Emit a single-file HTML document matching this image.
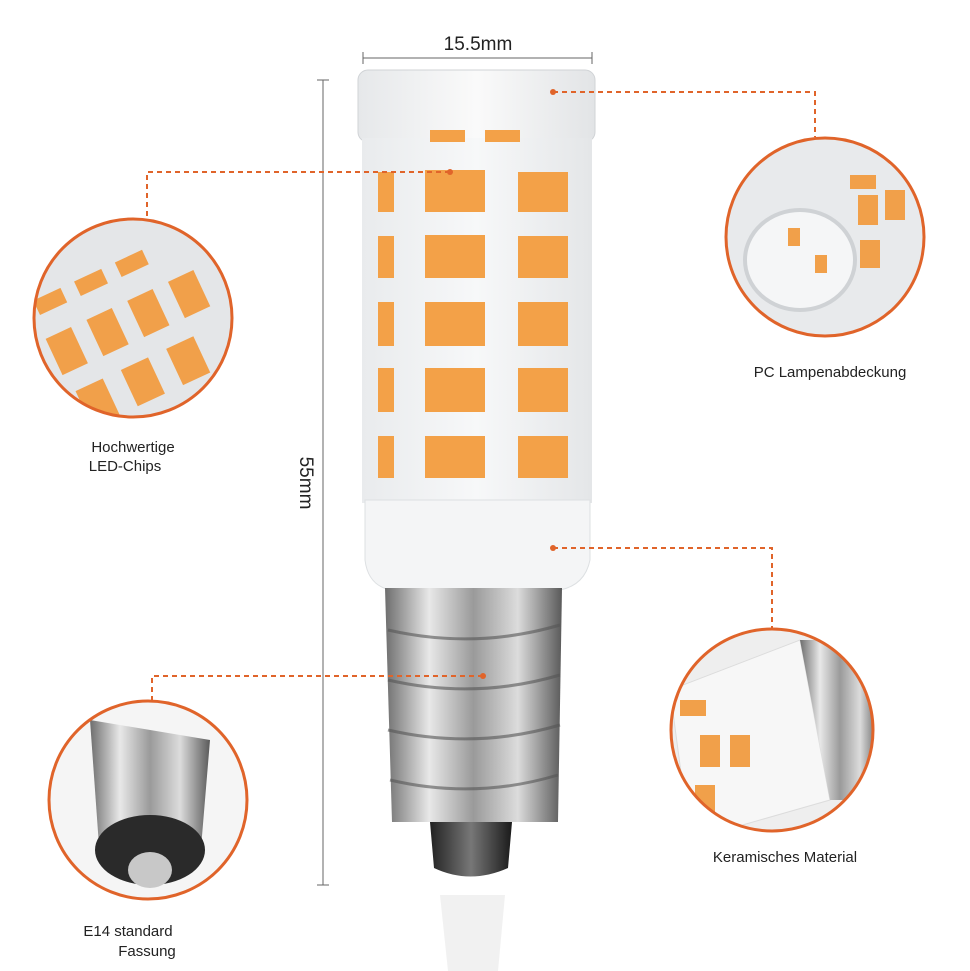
<!DOCTYPE html>
<html><head><meta charset="utf-8"><style>
html,body{margin:0;padding:0;background:#fff;}
svg{display:block}
text{font-family:"Liberation Sans","DejaVu Sans",sans-serif;fill:#222}
</style></head><body>
<svg width="970" height="971" viewBox="0 0 970 971" xmlns="http://www.w3.org/2000/svg">
<defs>
<linearGradient id="metal" x1="0" x2="1" y1="0" y2="0">
<stop offset="0" stop-color="#6e6e6e"/><stop offset="0.25" stop-color="#e8e8e8"/><stop offset="0.5" stop-color="#9a9a9a"/><stop offset="0.75" stop-color="#dcdcdc"/><stop offset="1" stop-color="#5a5a5a"/>
</linearGradient>
<linearGradient id="clear" x1="0" x2="1"><stop offset="0" stop-color="#e6e8ea"/><stop offset="0.5" stop-color="#fafafa"/><stop offset="1" stop-color="#e2e4e6"/></linearGradient>
<linearGradient id="body" x1="0" x2="1"><stop offset="0" stop-color="#e9ebed"/><stop offset="0.5" stop-color="#f7f8f9"/><stop offset="1" stop-color="#e4e6e8"/></linearGradient>
<linearGradient id="tip" x1="0" x2="1"><stop offset="0" stop-color="#222"/><stop offset="0.5" stop-color="#777"/><stop offset="1" stop-color="#1a1a1a"/></linearGradient>
<clipPath id="c1"><circle cx="133" cy="318" r="98"/></clipPath>
<clipPath id="c2"><circle cx="825" cy="237" r="98"/></clipPath>
<clipPath id="c3"><circle cx="148" cy="800" r="98"/></clipPath>
<clipPath id="c4"><circle cx="772" cy="730" r="100"/></clipPath>
</defs>

<!-- dimension lines -->
<line x1="363" y1="58" x2="592" y2="58" stroke="#666" stroke-width="1"/>
<line x1="363" y1="52" x2="363" y2="64" stroke="#666"/><line x1="592" y1="52" x2="592" y2="64" stroke="#666"/>
<text x="478" y="50" font-size="19" text-anchor="middle">15.5mm</text>
<line x1="323" y1="80" x2="323" y2="885" stroke="#666"/>
<line x1="317" y1="80" x2="329" y2="80" stroke="#666"/><line x1="317" y1="885" x2="329" y2="885" stroke="#666"/>
<text x="0" y="0" font-size="19" transform="translate(300,483) rotate(90)" text-anchor="middle">55mm</text>

<!-- bulb -->
<rect x="358" y="70" width="237" height="72" rx="10" fill="url(#clear)" stroke="#d0d3d6"/>
<rect x="362" y="138" width="230" height="365" fill="url(#body)"/>
<g fill="#f3a148">
<rect x="378" y="172" width="16" height="40"/><rect x="425" y="170" width="60" height="42"/><rect x="518" y="172" width="50" height="40"/>
<rect x="378" y="236" width="16" height="42"/><rect x="425" y="235" width="60" height="43"/><rect x="518" y="236" width="50" height="42"/>
<rect x="378" y="302" width="16" height="44"/><rect x="425" y="302" width="60" height="44"/><rect x="518" y="302" width="50" height="44"/>
<rect x="378" y="368" width="16" height="44"/><rect x="425" y="368" width="60" height="44"/><rect x="518" y="368" width="50" height="44"/>
<rect x="378" y="436" width="16" height="42"/><rect x="425" y="436" width="60" height="42"/><rect x="518" y="436" width="50" height="42"/>
<rect x="430" y="130" width="35" height="12"/><rect x="485" y="130" width="35" height="12"/>
</g>
<path d="M365 500 L590 500 L590 560 Q585 585 560 590 L390 590 Q368 585 365 560 Z" fill="#f4f5f6" stroke="#dde0e2"/>
<path d="M385 588 L562 588 L558 822 L392 822 Z" fill="url(#metal)"/>
<g stroke="#555" stroke-width="3" fill="none" opacity="0.6">
<path d="M388 630 Q475 650 560 625"/><path d="M388 680 Q475 700 560 675"/><path d="M388 730 Q475 750 560 725"/><path d="M390 780 Q475 800 558 775"/>
</g>
<path d="M430 822 L512 822 L508 868 Q470 885 434 868 Z" fill="url(#tip)"/>
<path d="M440 895 L505 895 L498 971 L448 971 Z" fill="#eeeeee" opacity="0.8"/>

<!-- connectors -->
<g stroke="#e0642a" stroke-width="2" stroke-dasharray="5,4" fill="none">
<path d="M450 172 H147 V218"/>
<path d="M553 92 H815 V137"/>
<path d="M553 548 H772 V628"/>
<path d="M483 676 H152 V700"/>
</g>
<g fill="#e0642a"><circle cx="450" cy="172" r="3"/><circle cx="553" cy="92" r="3"/><circle cx="553" cy="548" r="3"/><circle cx="483" cy="676" r="3"/></g>

<!-- circles -->
<g clip-path="url(#c1)">
<rect x="30" y="215" width="210" height="210" fill="#e4e6e8"/>
<g fill="#f1a04a" transform="rotate(-25 133 318)">
<rect x="50" y="260" width="30" height="16"/><rect x="95" y="260" width="30" height="16"/><rect x="140" y="260" width="30" height="16"/>
<rect x="45" y="300" width="28" height="40"/><rect x="90" y="300" width="28" height="40"/><rect x="135" y="300" width="28" height="40"/><rect x="180" y="300" width="28" height="40"/>
<rect x="50" y="360" width="30" height="40"/><rect x="100" y="360" width="30" height="40"/><rect x="150" y="360" width="30" height="40"/>
</g></g>
<circle cx="133" cy="318" r="99" fill="none" stroke="#e0642a" stroke-width="3"/>

<g clip-path="url(#c2)">
<rect x="725" y="137" width="200" height="200" fill="#e8eaec"/>
<ellipse cx="800" cy="260" rx="55" ry="50" fill="#f5f6f7" stroke="#cfd2d5" stroke-width="4"/>
<g fill="#f1a04a"><rect x="850" y="175" width="26" height="14"/><rect x="858" y="195" width="20" height="30"/><rect x="885" y="190" width="20" height="30"/><rect x="860" y="240" width="20" height="28"/><rect x="788" y="228" width="12" height="18"/><rect x="815" y="255" width="12" height="18"/></g>
</g>
<circle cx="825" cy="237" r="99" fill="none" stroke="#e0642a" stroke-width="3"/>

<g clip-path="url(#c3)">
<rect x="48" y="700" width="200" height="200" fill="#f5f5f5"/>
<path d="M90 720 L210 740 L200 860 L100 860 Z" fill="url(#metal)"/>
<ellipse cx="150" cy="850" rx="55" ry="35" fill="#2a2a2a"/>
<ellipse cx="150" cy="870" rx="22" ry="18" fill="#c8c8c8"/>
</g>
<circle cx="148" cy="800" r="99" fill="none" stroke="#e0642a" stroke-width="3"/>

<g clip-path="url(#c4)">
<rect x="670" y="628" width="205" height="205" fill="#eeeeee"/>
<path d="M670 690 L800 640 L830 800 L690 840 Z" fill="#f7f7f7" stroke="#dcdcdc"/>
<path d="M800 640 L880 640 L880 800 L830 800 Z" fill="url(#metal)"/>
<g fill="#f1a04a"><rect x="680" y="700" width="26" height="16"/><rect x="700" y="735" width="20" height="32"/><rect x="730" y="735" width="20" height="32"/><rect x="695" y="785" width="20" height="28"/></g>
</g>
<circle cx="772" cy="730" r="101" fill="none" stroke="#e0642a" stroke-width="3"/>

<!-- labels -->
<text x="133" y="452" font-size="15" text-anchor="middle">Hochwertige</text>
<text x="125" y="471" font-size="15" text-anchor="middle">LED-Chips</text>
<text x="830" y="377" font-size="15" text-anchor="middle">PC Lampenabdeckung</text>
<text x="785" y="862" font-size="15" text-anchor="middle">Keramisches Material</text>
<text x="128" y="936" font-size="15" text-anchor="middle">E14 standard</text>
<text x="147" y="956" font-size="15" text-anchor="middle">Fassung</text>
</svg>
</body></html>
